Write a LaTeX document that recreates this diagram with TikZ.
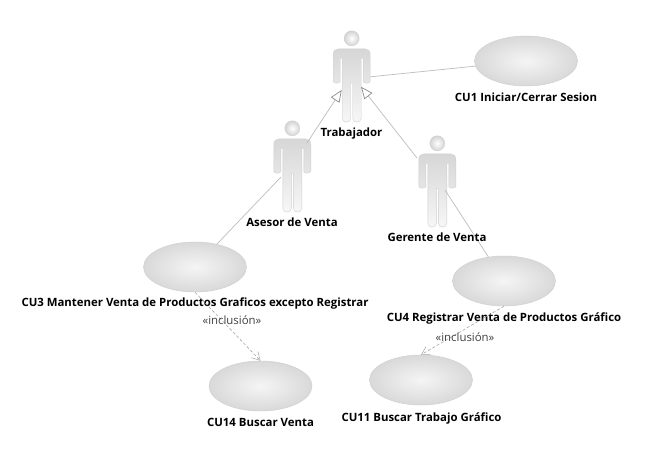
\documentclass[tikz,border=0pt]{standalone}
\usepackage{fontspec}
\setmainfont{Open Sans}
\usetikzlibrary{arrows.meta,shapes.geometric,calc}
\definecolor{lnc}{HTML}{BDBDBD}
\definecolor{edgec}{HTML}{D0D0D0}
\tikzset{
  x=1pt,y=-1pt,
  usecase/.style={ellipse,inner sep=0pt,minimum width=103pt,minimum height=50pt,draw=edgec,line width=.5pt,inner color=white!96!black,outer color=black!15},
  actorbox/.style={inner sep=0pt,minimum width=37pt,minimum height=91pt},
  lbl/.style={font=\fontsize{11.4}{13}\selectfont\bfseries,text=black,inner sep=0pt,anchor=base},
  stereo/.style={font=\fontsize{11.4}{13}\selectfont,text=black!75,inner sep=0pt,anchor=base},
  assoc/.style={draw=lnc,line width=.7pt},
  gener/.style={assoc,-{Triangle[open,fill=white,length=12pt,width=10pt,color=black!45]}},
  incl/.style={draw=black!35,line width=.6pt,dash pattern=on 3pt off 2pt,-{Straight Barb[length=8pt,width=9pt,line width=.5pt]}},
}
\newcommand{\actorfig}[3]{%
  \node[actorbox] (#1) at (#2,#3+38.5) {};
  \begin{scope}[shift={(#2,#3)}]
    \shade[draw=edgec,line width=.4pt,inner color=white,outer color=black!17] (0,0) circle (7.5);
    \shade[draw=edgec,line width=.4pt,top color=black!16,bottom color=white!97!black]
      (-18.5,16) .. controls (-18.5,12.5) and (-16,10.5) .. (-13,10.5)
      -- (13,10.5) .. controls (16,10.5) and (18.5,12.5) .. (18.5,16)
      -- (18.5,43) .. controls (18.5,45.5) and (11.5,45.5) .. (11.5,43)
      -- (11.5,20) -- (9.5,20) -- (9.5,80) .. controls (9.5,85) and (1,85) .. (1,80)
      -- (1,45) -- (-1,45) -- (-1,80) .. controls (-1,85) and (-9.5,85) .. (-9.5,80)
      -- (-9.5,20) -- (-11.5,20) -- (-11.5,43) .. controls (-11.5,45.5) and (-18.5,45.5) .. (-18.5,43) -- cycle;
  \end{scope}}
\begin{document}
\begin{tikzpicture}
\useasboundingbox (0,0) rectangle (662,473);
\fill[white] (0,0) rectangle (662,473);
\coordinate (trabL) at (341.7,90);
\coordinate (trabR) at (361,86.7);
\coordinate (aseT) at (307,143);
\coordinate (gerT) at (417,158);
\coordinate (aseB) at (281,177);
\coordinate (gerB) at (445,190);
\actorfig{trab}{351.7}{38.3}
\actorfig{ase}{292.3}{128.3}
\actorfig{ger}{437.3}{143.3}
\node[usecase] (cu1) at (526,61) {};
\node[usecase] (cu3) at (195,267) {};
\node[usecase] (cu14) at (260.5,386) {};
\node[usecase] (cu4) at (504,281) {};
\node[usecase] (cu11) at (421,380) {};
\draw[assoc] (trab.east) -- (cu1);
\draw[gener] (aseT) -- (trabL);
\draw[gener] (gerT) -- (trabR);
\draw[assoc] (aseB) -- (cu3);
\draw[assoc] (gerB) -- (cu4);
\node[lbl] (l0) at (351.5,136.7) {Trabajador};
\node[lbl] (l1) at (292,226.7) {Asesor de Venta};
\node[lbl] (l2) at (437,241.7) {Gerente de Venta};
\node[lbl] (l3) at (526,101.7) {CU1 Iniciar/Cerrar Sesion};
\node[lbl] (l4) at (195,306.7) {CU3 Mantener Venta de Productos Graficos excepto Registrar};
\node[lbl] (l5) at (504,321.7) {CU4 Registrar Venta de Productos Gráfico};
\node[lbl] (l6) at (260.5,426.7) {CU14 Buscar Venta};
\node[lbl] (l7) at (421.5,421.7) {CU11 Buscar Trabajo Gráfico};
\draw[incl] (cu3.south) -- (cu14.north);
\draw[incl] (cu4.south) -- (cu11.north);
\node[stereo] (s1) at (232,324.5) {«inclusión»};
\node[stereo] (s2) at (465,341.5) {«inclusión»};
\end{tikzpicture}
\end{document}
